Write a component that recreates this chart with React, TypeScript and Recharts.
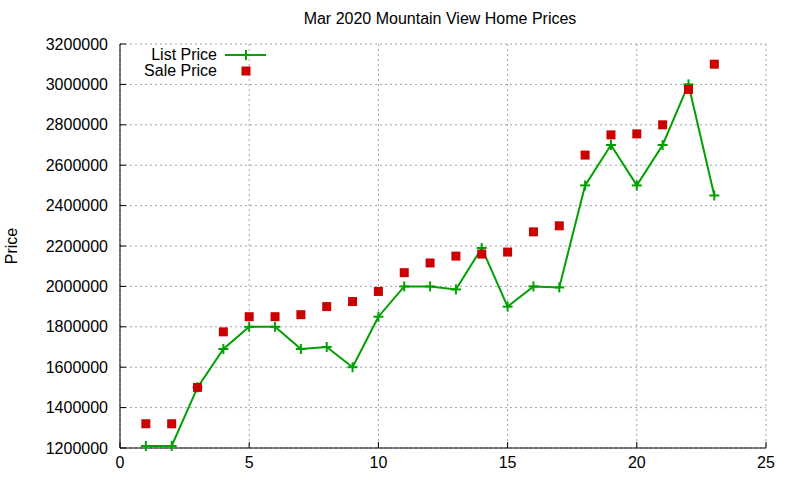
import { ComposedChart, Line, XAxis, YAxis, CartesianGrid, Legend } from "recharts";

const days = [1, 2, 3, 4, 5, 6, 7, 8, 9, 10, 11, 12, 13, 14, 15, 16, 17, 18, 19, 20, 21, 22, 23];
const listPrice = [
  1210000, 1210000, 1500000, 1690000, 1800000, 1800000, 1690000, 1700000, 1600000, 1850000, 2000000, 2000000,
  1985000, 2190000, 1900000, 2000000, 1995000, 2500000, 2700000, 2500000, 2700000, 3000000, 2450000,
];
const salePrice = [
  1320000, 1320000, 1500000, 1775000, 1850000, 1850000, 1860000, 1900000, 1925000, 1975000, 2068000, 2116000,
  2150000, 2160000, 2170000, 2270000, 2300000, 2650000, 2750000, 2755000, 2800000, 2975000, 3100000,
];
const xTicks = [0, 5, 10, 15, 20, 25];
const yTicks = [1200000, 1400000, 1600000, 1800000, 2000000, 2200000, 2400000, 2600000, 2800000, 3000000, 3200000];

const data = days.map((d, i) => ({ day: d, list: listPrice[i], sale: salePrice[i] }));

const GREEN = "#00a000";
const RED = "#cc0000";
const FONT = "'Liberation Sans', Arial, sans-serif";

const PlusDot = (props: any) => {
  const { cx, cy } = props;
  if (cx == null || cy == null) return null;
  return (
    <g stroke={GREEN} strokeWidth={2}>
      <line x1={cx - 5} y1={cy} x2={cx + 5} y2={cy} />
      <line x1={cx} y1={cy - 5} x2={cx} y2={cy + 5} />
    </g>
  );
};

const SquareDot = (props: any) => {
  const { cx, cy } = props;
  if (cx == null || cy == null) return null;
  return <rect x={cx - 4.5} y={cy - 4.5} width={9} height={9} fill={RED} />;
};

const LegendBox = () => (
  <div style={{ fontFamily: FONT, fontSize: 16, color: "#000" }}>
    <div style={{ display: "flex", alignItems: "center", height: 16 }}>
      <span style={{ width: 217, textAlign: "right", lineHeight: "16px" }}>List Price</span>
      <svg width={50} height={16} style={{ marginLeft: 8 }}>
        <line x1={0} y1={8} x2={41} y2={8} stroke={GREEN} strokeWidth={2} />
        <line x1={21} y1={3} x2={21} y2={13} stroke={GREEN} strokeWidth={2} />
      </svg>
    </div>
    <div style={{ display: "flex", alignItems: "center", height: 16 }}>
      <span style={{ width: 217, textAlign: "right", lineHeight: "16px" }}>Sale Price</span>
      <svg width={50} height={16} style={{ marginLeft: 8 }}>
        <rect x={16.5} y={3.5} width={9} height={9} fill={RED} />
      </svg>
    </div>
  </div>
);

export default function App() {
  const tickStyle = { fill: "#000", fontSize: 16, fontFamily: FONT };
  return (
    <div style={{ position: "absolute", left: 0, top: 0, width: 800, height: 480, background: "#fff" }}>
      <div
        style={{
          position: "absolute",
          top: 11,
          left: 0,
          width: 880,
          textAlign: "center",
          fontFamily: FONT,
          fontSize: 16,
          lineHeight: "16px",
          color: "#000",
          zIndex: 1,
        }}
      >
        Mar 2020 Mountain View Home Prices
      </div>
      <ComposedChart width={800} height={480} data={data} margin={{ top: 44, right: 34, bottom: 0, left: 0 }}>
        <CartesianGrid stroke="#a0a0a0" strokeDasharray="2 3" />
        <XAxis
          dataKey="day"
          type="number"
          domain={[0, 25]}
          ticks={xTicks}
          height={32}
          stroke="#000"
          tickSize={-6}
          tickMargin={15}
          tick={tickStyle}
        />
        <XAxis
          xAxisId="top"
          orientation="top"
          dataKey="day"
          type="number"
          domain={[0, 25]}
          ticks={xTicks}
          height={0}
          stroke="#000"
          tickSize={-6}
          tick={false}
        />
        <YAxis
          type="number"
          domain={[1200000, 3200000]}
          ticks={yTicks}
          width={120}
          stroke="#000"
          tickSize={-6}
          tickMargin={18}
          tick={tickStyle}
          label={{
            value: "Price",
            angle: -90,
            position: "insideLeft",
            offset: 11,
            style: { textAnchor: "middle", fill: "#000", fontSize: 16, fontFamily: FONT },
          }}
        />
        <YAxis
          yAxisId="right"
          orientation="right"
          type="number"
          domain={[1200000, 3200000]}
          ticks={yTicks}
          width={0}
          stroke="#000"
          tickSize={-6}
          tick={false}
        />
        <Legend
          layout="vertical"
          align="center"
          verticalAlign="middle"
          content={() => <LegendBox />}
          wrapperStyle={{ top: 47, left: 0, width: 300, height: 34 }}
        />
        <Line
          dataKey="list"
          stroke={GREEN}
          strokeWidth={2}
          dot={<PlusDot />}
          activeDot={false}
          isAnimationActive={false}
        />
        <Line
          dataKey="sale"
          stroke="none"
          dot={<SquareDot />}
          activeDot={false}
          isAnimationActive={false}
        />
      </ComposedChart>
    </div>
  );
}
